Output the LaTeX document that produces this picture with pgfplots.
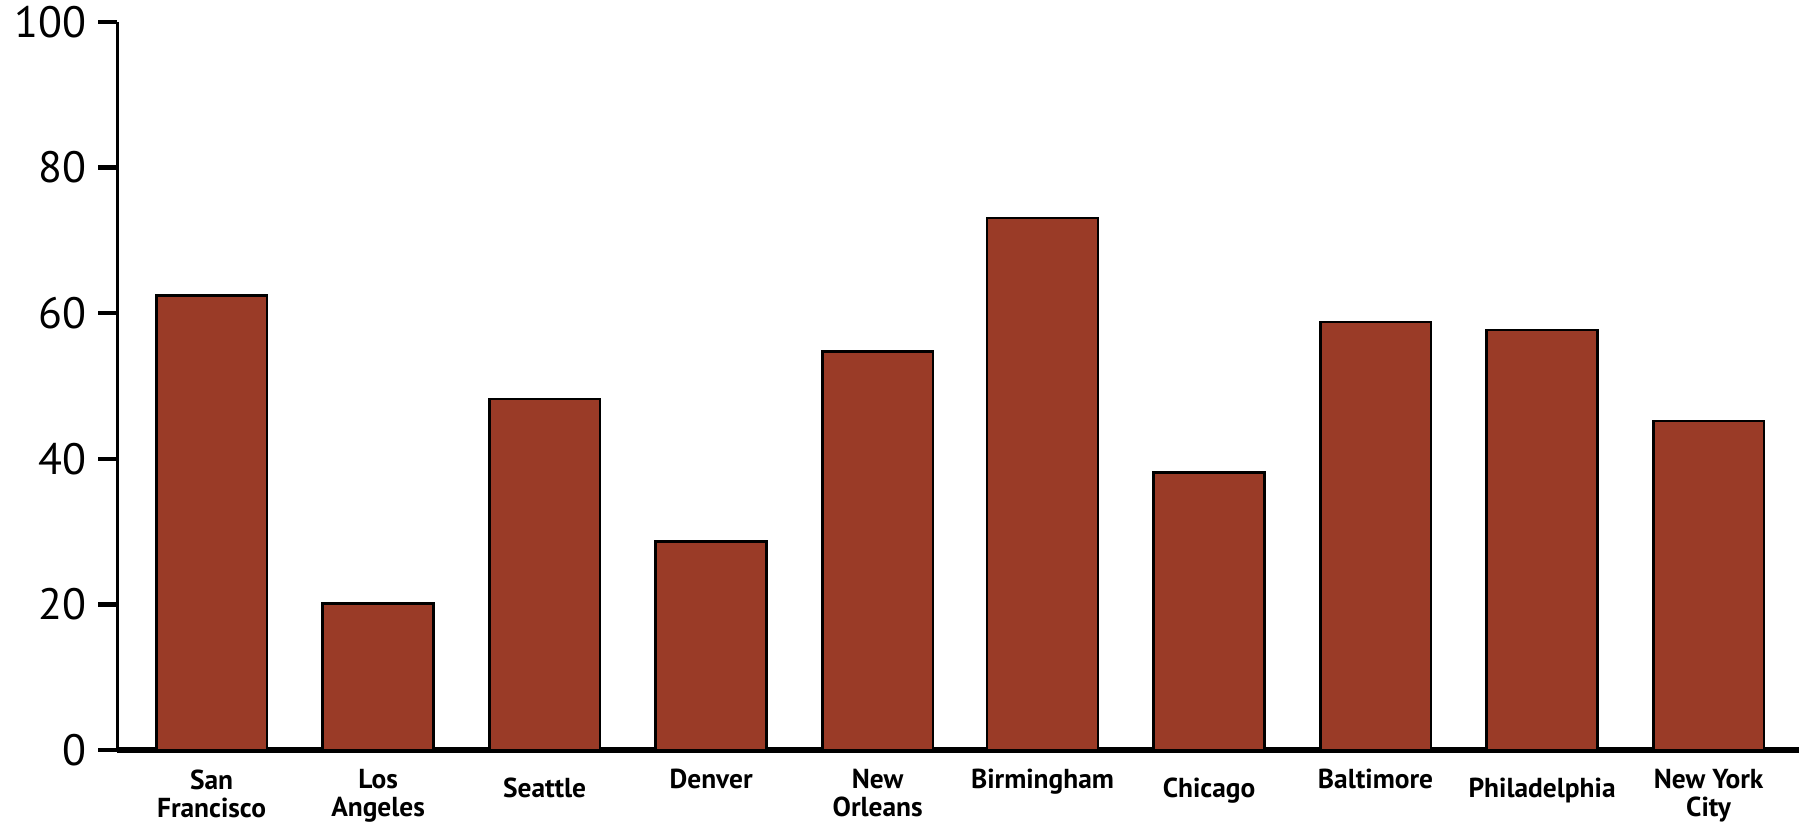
\documentclass[border=0pt]{standalone}
\usepackage{fontspec}
\setmainfont{PT Sans}
\usepackage{pgfplots}
\pgfplotsset{compat=1.18}
\definecolor{barred}{RGB}{154,59,39}
\begin{document}
\begin{tikzpicture}
\useasboundingbox (0,0) rectangle (18.05cm,8.22cm);
\begin{axis}[
  at={(1.174cm,0.72cm)}, anchor=south west,
  scale only axis, width=16.82cm, height=7.28cm,
  xmin=-0.5, xmax=9.5, ymin=0, ymax=100,
  axis lines*=left,
  x axis line style={line width=1.6pt},
  y axis line style={line width=0.8pt},
  ytick={0,20,40,60,80,100},
  tick align=outside,
  major tick length=0.19cm,
  y tick style={line width=1.3pt, black},
  xtick={0.06,1.05,2.04,3.03,4.02,5.00,5.99,6.98,7.97,8.96},
  x tick style={draw=none},
  minor xtick={-0.5,0.5,1.5,2.5,3.5,4.5,5.5,6.5,7.5,8.5,9.5},
  minor tick length=0.15cm,
  minor x tick style={line width=0.7pt, black},
  xticklabels={{San\\Francisco},{Los\\Angeles},{\mbox{}\\Seattle},{Denver},{New\\Orleans},{Birmingham},{\mbox{}\\Chicago},{Baltimore},{\mbox{}\\Philadelphia},{New York\\City}},
  xticklabel style={align=center, anchor=north, font=\bfseries\fontsize{7.8}{8}\selectfont, yshift=0.12cm},
  yticklabel style={font=\fontsize{12.5}{14}\selectfont},
  /pgf/number format/assume math mode=true,
  clip=false,
]
\addplot[ybar, bar width=1.107cm, fill=barred, draw=black, line width=0.75pt]
coordinates {(0.06,62.4) (1.05,20.1) (2.04,48.2) (3.03,28.6) (4.02,54.7) (5.00,73.1) (5.99,38.1) (6.98,58.8) (7.97,57.7) (8.96,45.2)};
\end{axis}
\end{tikzpicture}
\end{document}
